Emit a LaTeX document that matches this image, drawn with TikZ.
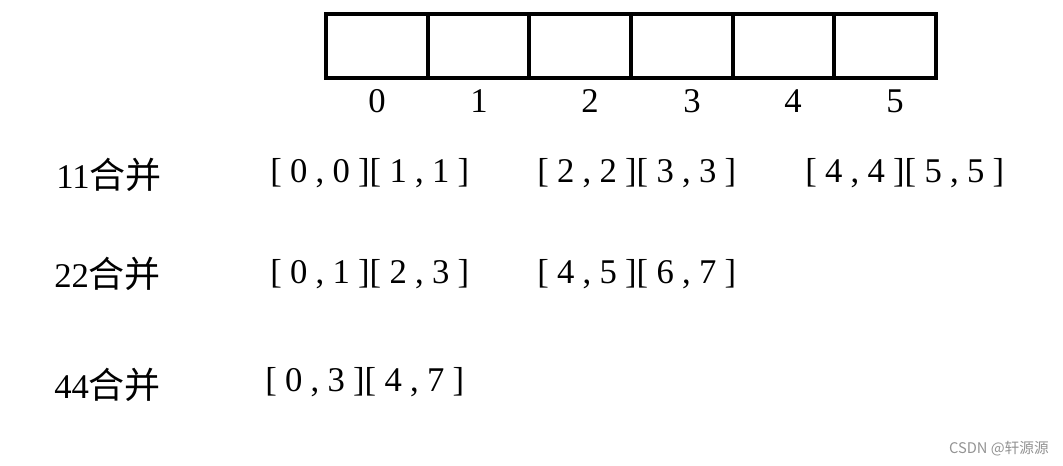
\documentclass[tikz,border=0pt]{standalone}
\usepackage{fontspec}
\setmainfont{Liberation Serif}
\newfontfamily\cjk{Noto Sans CJK SC}
\usepackage{tikz}
\usetikzlibrary{positioning}
\tikzset{%
  cell/.style={draw, line width=3pt, minimum width=76.25pt, minimum height=48pt, inner sep=0pt},
  txt/.style={font=\fontsize{26}{30}\selectfont, inner sep=0pt},
  rowtxt/.style={txt, anchor=west}
}
\newcommand\seg[2]{[\kern6.2pt#1\kern6.2pt,\kern6.2pt#2\kern6.2pt]}
\newcommand\hb{{\cjk\fontsize{27}{30}\selectfont 合并}}

\begin{document}
\begin{tikzpicture}[x=0.75pt,y=-0.75pt]
\useasboundingbox (0,0) rectangle (1063,465);
% array cells and their indices
\foreach \i in {0,...,5} \node[cell] (c\i) at (326+101.67*\i+50.83,46) {};
\foreach \i/\x in {0/377,1/479,2/590,3/692,4/793,5/895} \node[txt] (n\i) at (\x,101) {\i};
% merge rows
\node[rowtxt] (r1) at (56,175) {11\hb};
\node[rowtxt] (r2) at (54,274) {22\hb};
\node[rowtxt] (r3) at (54,385) {44\hb};
\node[rowtxt] (a1) at (270,173) {\seg{0}{0}\seg{1}{1}};
\node[rowtxt] (a2) at (537,173) {\seg{2}{2}\seg{3}{3}};
\node[rowtxt] (a3) at (805,173) {\seg{4}{4}\seg{5}{5}};
\node[rowtxt] (b1) at (270,274) {\seg{0}{1}\seg{2}{3}};
\node[rowtxt] (b2) at (537,274) {\seg{4}{5}\seg{6}{7}};
\node[rowtxt] (d1) at (265,382) {\seg{0}{3}\seg{4}{7}};
\node[anchor=east, inner sep=0pt, text=gray!85, font=\cjk\fontsize{11}{13}\selectfont] (wm) at (1049,449) {CSDN @轩源源};
\end{tikzpicture}
\end{document}
